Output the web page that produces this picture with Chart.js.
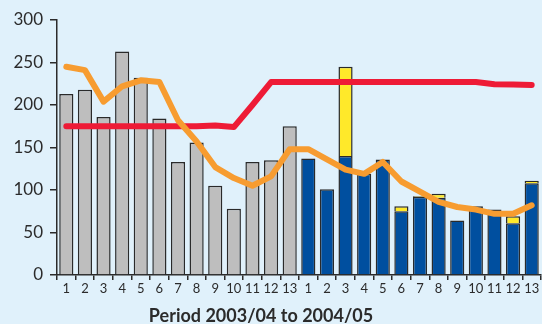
<!DOCTYPE html>
<html>
<head>
<meta charset="utf-8">
<script src="https://cdn.jsdelivr.net/npm/chart.js@4/dist/chart.umd.min.js"></script>
<style>
  html, body { margin: 0; padding: 0; background: #e0f1fb; }
  #wrap { width: 542px; height: 324px; }
</style>
</head>
<body>
<div id="wrap"><canvas id="c" width="542" height="324"></canvas></div>
<script>
// Period labels: 13 four-week periods in each of two years
const periods = ['1','2','3','4','5','6','7','8','9','10','11','12','13',
                 '1','2','3','4','5','6','7','8','9','10','11','12','13'];

// 2003/04 totals (grey)
const year1 = [213, 218, 186, 263, 232, 184, 133, 156, 105, 78, 133, 135, 175];
// 2004/05 main component (blue) and additional component (yellow)
const year2Main  = [137, 101, 140, 119, 136, 75, 92, 91, 64, 81, 77, 61, 108];
const year2Extra = [0, 0, 105, 0, 0, 6, 1, 4.5, 0, 0, 0, 8, 3];

// Rolling average (orange) and target (red) across both years
const rollingAvg = [245, 241, 204, 222, 229, 227, 182, 157, 127, 114, 105, 116, 148,
                    148, 136, 124, 119, 133, 110, 98, 86, 80, 77, 72, 72, 82];
const target = [175, 175, 175, 175, 175, 175, 175, 175, 176, 174, 200, 227, 227,
                227, 227, 227, 227, 227, 227, 227, 227, 227, 227, 224.5, 224, 223.5];

const yTicks = [0, 50, 100, 150, 200, 250, 300];
const xTitle = 'Period 2003/04 to 2004/05';

const pad13 = new Array(13).fill(null);
const greyData = year1.concat(pad13);
const blueData = pad13.concat(year2Main);
const yellowData = pad13.concat(year2Extra);

const ink = '#2b2b2b';
const fontFamily = 'Lato, "Open Sans", sans-serif';

const background = {
  id: 'background',
  beforeDraw(chart) {
    const ctx = chart.ctx;
    ctx.save();
    ctx.fillStyle = '#e0f1fb';
    ctx.fillRect(0, 0, chart.width, chart.height);
    ctx.restore();
  }
};

const bottomTitle = {
  id: 'bottomTitle',
  afterDraw(chart) {
    const ctx = chart.ctx;
    const area = chart.chartArea;
    ctx.save();
    ctx.font = 'bold 18px ' + fontFamily;
    ctx.fillStyle = ink;
    ctx.textAlign = 'center';
    ctx.textBaseline = 'alphabetic';
    ctx.fillText(xTitle, (area.left + area.right) / 2 - 38, chart.height - 2);
    ctx.restore();
  }
};

const barStyle = { borderColor: '#2a2a2a', borderWidth: 1.5, barPercentage: 0.76, categoryPercentage: 1, order: 2, stack: 'bars' };

new Chart(document.getElementById('c'), {
  data: {
    labels: periods,
    datasets: [
      Object.assign({ type: 'bar', label: '2003/04', data: greyData, backgroundColor: '#bebebe' }, barStyle),
      Object.assign({ type: 'bar', label: '2004/05', data: blueData, backgroundColor: '#004f9f' }, barStyle),
      Object.assign({ type: 'bar', label: '2004/05 extra', data: yellowData, backgroundColor: '#ffe92a' }, barStyle),
      { type: 'line', label: 'Target', data: target, borderColor: '#ee1b36', borderWidth: 6,
        pointRadius: 0, tension: 0, borderCapStyle: 'round', borderJoinStyle: 'round', order: 1, stack: 'target' },
      { type: 'line', label: 'Average', data: rollingAvg, borderColor: '#f79c30', borderWidth: 6,
        pointRadius: 0, tension: 0, borderCapStyle: 'round', borderJoinStyle: 'round', order: 0, stack: 'avg' }
    ]
  },
  options: {
    responsive: false,
    animation: false,
    devicePixelRatio: 1,
    layout: { padding: { top: 20, right: 1, left: 0, bottom: 0 } },
    plugins: { legend: { display: false }, tooltip: { enabled: false } },
    scales: {
      x: {
        stacked: true,
        offset: true,
        grid: { display: true, offset: true, drawOnChartArea: false, drawTicks: true, tickLength: 5, color: ink, lineWidth: 1.5 },
        border: { display: true, color: ink, width: 1.5 },
        ticks: { autoSkip: false, maxRotation: 0, minRotation: 0, padding: 1, color: ink, font: { family: fontFamily, size: 13 } },
        afterFit(scale) { scale.height = 49; }
      },
      y: {
        stacked: true,
        min: 0,
        max: 300,
        afterBuildTicks(scale) { scale.ticks = yTicks.map(v => ({ value: v })); },
        grid: { display: true, drawOnChartArea: false, drawTicks: true, tickLength: 7, color: ink, lineWidth: 1.5 },
        border: { display: true, color: ink, width: 1.5 },
        ticks: { padding: 7, color: ink, font: { family: fontFamily, size: 17 } },
        afterFit(scale) { scale.width = 57; }
      }
    }
  },
  plugins: [background, bottomTitle]
});
</script>
</body>
</html>
